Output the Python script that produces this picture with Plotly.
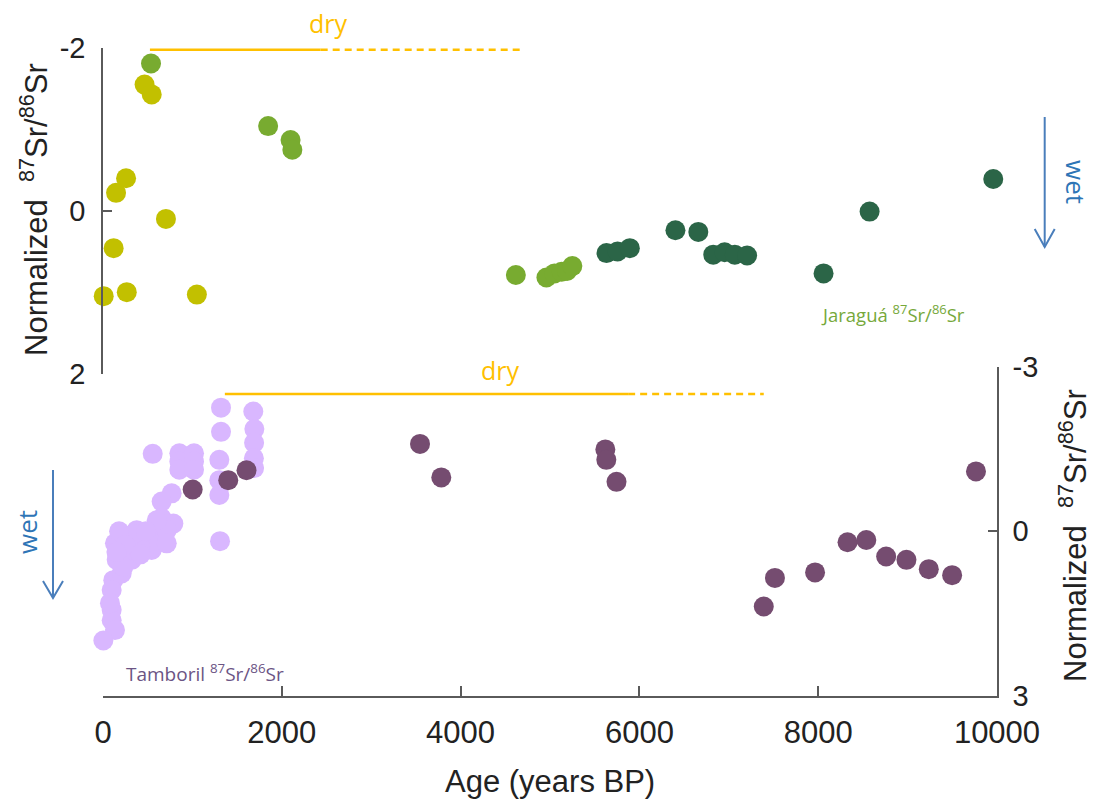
import plotly.graph_objects as go

# ---------------- data ----------------
# top panel (Jaragua records)
ygreen_age = [8, 119, 146, 258, 266, 465, 545, 704, 1050]
ygreen_val = [1.05, 0.46, -0.22, -0.40, 1.00, -1.55, -1.43, 0.10, 1.03]

green_age = [537, 1847, 2098, 2118, 4618, 4960, 5050, 5130, 5190, 5250]
green_val = [-1.81, -1.04, -0.87, -0.75, 0.79, 0.82, 0.77, 0.75, 0.74, 0.68]

dgreen_age = [5632, 5756, 5893, 6403, 6659, 6826, 6953, 7067, 7205, 8060, 8575, 9958]
dgreen_val = [0.52, 0.50, 0.46, 0.24, 0.26, 0.54, 0.51, 0.54, 0.55, 0.77, 0.01, -0.39]

# bottom panel (Tamboril records)
lav_age = [1320, 1320, 1301, 1301, 1301, 1309, 1681, 1693, 1690, 1688, 1690,
           556, 854, 1018, 854, 1018, 854, 1018, 768, 656, 656, 787, 656, 545,
           377, 265, 134, 321, 209, 451, 601, 713, 713, 115, 209, 97, 97, 97,
           134, 4, 302, 153, 227, 78, 414, 601, 340, 180, 480, 250, 150, 420]
lav_val = [-2.25, -1.81, -1.30, -0.93, -0.66, 0.18, -2.18, -1.86, -1.61, -1.33, -1.15,
           -1.41, -1.42, -1.42, -1.27, -1.27, -1.12, -1.12, -0.69, -0.54, -0.24, -0.14, 0.04, 0.34,
           -0.02, 0.10, 0.22, 0.52, 0.46, 0.16, 0.22, -0.02, 0.22, 0.89, 0.77, 1.07, 1.43, 1.62,
           1.80, 1.99, 0.34, 0.52, 0.65, 1.31, 0.28, -0.20, 0.05, 0.00, 0.00, 0.25, 0.38, 0.42]

tam_age = [1003, 1401, 1605, 3546, 3784, 5619, 5630, 5744, 7391, 7516, 7965,
           8328, 8538, 8760, 8987, 9237, 9498, 9765]
tam_val = [-0.76, -0.93, -1.11, -1.59, -0.98, -1.49, -1.30, -0.90, 1.37, 0.85, 0.75,
           0.20, 0.16, 0.46, 0.52, 0.69, 0.80, -1.09]

# dry periods (age ranges)
dry_top_solid = [525, 2435]
dry_top_dash = [2435, 4690]
dry_top_level = -1.98
dry_bot_solid = [1363, 5874]
dry_bot_dash = [5874, 7391]
dry_bot_level = -2.5

x_ticks = [0, 2000, 4000, 6000, 8000, 10000]
x_ticktext = ['0', '2000', '4000', '6000', '8000', '10000']
y_ticks_top = [-2, 0, 2]
y_ticktext_top = ['-2', '0', '2']
y_ticks_bot = [-3, 0, 3]
y_ticktext_bot = ['-3', '0', '3']

# ---------------- layout geometry ----------------
W, H = 1094, 801
L, R, T, B = 103, 97, 48, 105
PW = W - L - R
PH = H - T - B


def px(x):
    return (x - L) / PW


def py(y):
    return (H - B - y) / PH


C_YG = '#c2c000'
C_G = '#78ab30'
C_DG = '#2b6547'
C_LAV = '#d9b7ff'
C_PUR = '#754c70'
C_DRY = '#ffc000'
C_WET = '#2e75b6'
C_ARW = '#4a7ebb'
AX = '#5a5a5a'
FONT = 'Liberation Sans, Arial, sans-serif'
FONT2 = 'Open Sans, Noto Sans, sans-serif'

fig = go.Figure()

MS = 20


def add_pts(x, y, color, yaxis):
    fig.add_trace(go.Scatter(x=x, y=y, mode='markers', xaxis='x', yaxis=yaxis,
                             marker=dict(size=MS, color=color, line=dict(width=0)),
                             cliponaxis=False, showlegend=False, hoverinfo='x+y'))


add_pts(ygreen_age, ygreen_val, C_YG, 'y')
add_pts(green_age, green_val, C_G, 'y')
add_pts(dgreen_age, dgreen_val, C_DG, 'y')
add_pts(lav_age, lav_val, C_LAV, 'y2')
add_pts(tam_age, tam_val, C_PUR, 'y2')


def add_line(xr, level, yaxis, dash):
    fig.add_trace(go.Scatter(x=xr, y=[level, level], mode='lines', xaxis='x', yaxis=yaxis,
                             line=dict(color=C_DRY, width=2.5, dash=dash),
                             cliponaxis=False, showlegend=False, hoverinfo='skip'))


add_line(dry_top_solid, dry_top_level, 'y', 'solid')
add_line(dry_top_dash, dry_top_level, 'y', '7px,5px')
add_line(dry_bot_solid, dry_bot_level, 'y2', 'solid')
add_line(dry_bot_dash, dry_bot_level, 'y2', '7px,5px')


def ann(text, x, y, size, color, family=FONT2, angle=0, xref='paper', yref='paper'):
    return dict(text=text, x=x, y=y, xref=xref, yref=yref, showarrow=False,
                xanchor='center', yanchor='middle', textangle=angle,
                font=dict(family=family, size=size, color=color))


TITLE = 'Normalized  <sup>87</sup>Sr/<sup>86</sup>Sr'

annotations = [
    ann('dry', px(328), py(23), 25, C_DRY),
    ann('dry', px(500), py(370), 25, C_DRY),
    ann('Jaraguá <sup>87</sup>Sr/<sup>86</sup>Sr', px(893), py(313), 18.5, '#76a83a'),
    ann('Tamboril <sup>87</sup>Sr/<sup>86</sup>Sr', px(205), py(673), 19, '#6b5484'),
    ann('wet', px(1076), py(182), 26, C_WET, angle=90),
    ann('wet', px(27), py(532), 26, C_WET, angle=-90),
    ann(TITLE, px(34), py(210), 31, '#222222', family=FONT, angle=-90),
    ann(TITLE, px(1073), py(536), 31, '#222222', family=FONT, angle=-90),
    ann('Age (years BP)', 0.5, py(781), 31, '#222222', family=FONT),
]

shapes = [
    dict(type='line', xref='paper', yref='paper', x0=px(1044.7), x1=px(1044.7),
         y0=py(117), y1=py(247), line=dict(color=C_ARW, width=2)),
    dict(type='path', xref='paper', yref='paper',
         path=f'M {px(1034.7)},{py(229)} L {px(1044.7)},{py(247)} L {px(1054.7)},{py(229)}',
         line=dict(color=C_ARW, width=2)),
    dict(type='line', xref='paper', yref='paper', x0=px(53), x1=px(53),
         y0=py(470), y1=py(598), line=dict(color=C_ARW, width=2)),
    dict(type='path', xref='paper', yref='paper',
         path=f'M {px(43)},{py(581)} L {px(53)},{py(598)} L {px(63)},{py(581)}',
         line=dict(color=C_ARW, width=2)),
]

axis_common = dict(showgrid=False, zeroline=False, showline=True, linecolor=AX, linewidth=1.5,
                   ticks='inside', tickcolor=AX, tickwidth=1.5)

fig.update_layout(
    width=W, height=H,
    margin=dict(l=L, r=R, t=T, b=B, autoexpand=False),
    paper_bgcolor='white', plot_bgcolor='white',
    showlegend=False,
    xaxis=dict(range=[0, 10000], domain=[0, 1], anchor='y2', tickvals=x_ticks,
               ticktext=x_ticktext,
               ticklen=10, tickfont=dict(family=FONT, size=31, color='#222222'),
               ticklabelstandoff=8, **axis_common),
    yaxis=dict(range=[2, -2], domain=[py(373.5), 1], anchor='x', side='left',
               tickvals=y_ticks_top, ticktext=y_ticktext_top, ticklen=9,
               tickfont=dict(family=FONT, size=29, color='#222222'),
               ticklabelstandoff=10, **axis_common),
    yaxis2=dict(range=[3, -3], domain=[0, py(366.5)], anchor='x', side='right',
                tickvals=y_ticks_bot, ticktext=y_ticktext_bot, ticklen=9,
                tickfont=dict(family=FONT, size=29, color='#222222'),
                ticklabelstandoff=8, **axis_common),
    annotations=annotations,
    shapes=shapes,
)

fig.write_html('out.html', config={'displayModeBar': False},
               post_script="document.body.style.margin='0';")
